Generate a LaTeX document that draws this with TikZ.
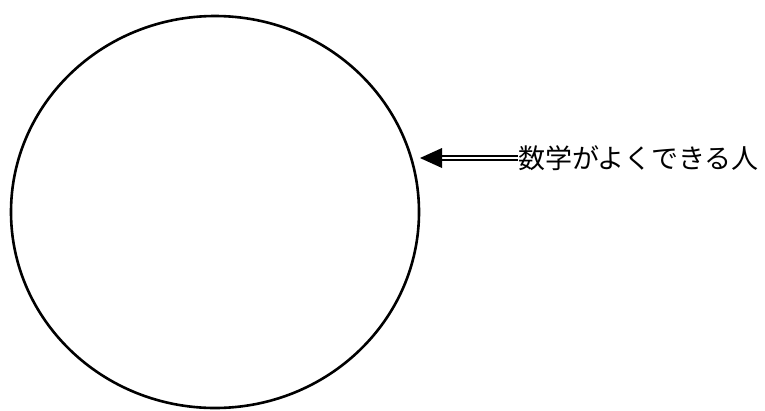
\documentclass[tikz,border=0pt]{standalone}
\usepackage{fontspec}
\newfontfamily\cjk{Noto Sans CJK JP}
\usetikzlibrary{shapes.geometric}
\tikzset{
  outline/.style={draw=black, line width=2.6pt},
  label/.style={font=\cjk\fontsize{27}{27}\selectfont, inner sep=0pt, anchor=west},
  dbl/.style={draw=black, double=white, double distance=2pt, line width=2pt}
}
\begin{document}
\begin{tikzpicture}[x=1pt,y=-1pt]
\useasboundingbox (0,0) rectangle (765,410);
\node[outline, ellipse, minimum width=408pt, minimum height=392pt, inner sep=0pt] (c) at (215,212) {};
\node[label] (lbl) at (518,158) {数学がよくできる人};
\coordinate (tip) at (420,158);
\coordinate (hb) at (442,158);
\draw[dbl] (lbl.west) -- (hb);
\fill[black] (tip) -- ([yshift=-10pt]hb) -- ([yshift=10pt]hb) -- cycle;
\end{tikzpicture}
\end{document}
